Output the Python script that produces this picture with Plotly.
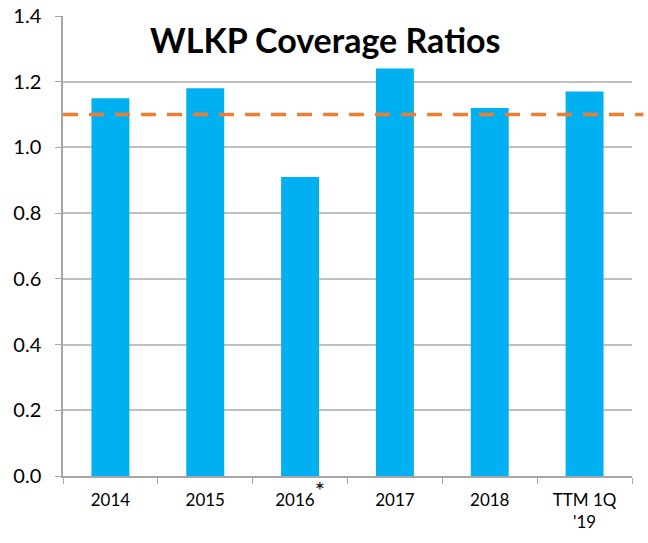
import plotly.graph_objs as go

categories = ["2014", "2015", "2016<sup><span style='font-size:24px'>*</span></sup>",
              "2017", "2018", "TTM 1Q<br>'19"]
coverage = [1.15, 1.18, 0.91, 1.24, 1.12, 1.17]
target_ratio = 1.1
y_ticks = [0.0, 0.2, 0.4, 0.6, 0.8, 1.0, 1.2, 1.4]

font_family = "Lato, Open Sans, sans-serif"

trace0 = go.Bar(
    x = categories,
    y = coverage,
    marker = {"color": "#00B0F0", "line": {"width": 0}},
    width = 0.4
)

layout = go.Layout(
    width = 648,
    height = 543,
    margin = {"l": 63, "r": 16, "t": 16, "b": 67},
    paper_bgcolor = "white",
    plot_bgcolor = "white",
    showlegend = False,
    font = {"family": font_family, "color": "#000000"},
    xaxis = {
        "automargin": False,
        "showgrid": False,
        "showline": True,
        "linecolor": "#A6A6A6",
        "linewidth": 1.5,
        "ticks": "outside",
        "tickson": "boundaries",
        "ticklen": 6,
        "tickcolor": "#A6A6A6",
        "tickfont": {"size": 17},
        "ticklabelstandoff": 8,
    },
    yaxis = {
        "automargin": False,
        "range": [0, 1.4],
        "tickmode": "array",
        "tickvals": y_ticks,
        "ticktext": ["%.1f" % v for v in y_ticks],
        "ticklabeloverflow": "allow",
        "showgrid": True,
        "gridcolor": "#BFBFBF",
        "gridwidth": 1.5,
        "showline": True,
        "linecolor": "#A6A6A6",
        "linewidth": 1.5,
        "ticks": "outside",
        "ticklen": 6,
        "tickcolor": "#A6A6A6",
        "tickfont": {"size": 20},
        "ticklabelstandoff": 10,
        "zeroline": False,
    },
    shapes = [{
        "type": "line",
        "xref": "paper",
        "yref": "y",
        "x0": 0,
        "x1": 1.02,
        "y0": target_ratio,
        "y1": target_ratio,
        "line": {"color": "#ED7D31", "width": 3.5, "dash": "15px,11px"},
    }],
    annotations = [{
        "text": "<b>WLKP Coverage Ratios</b>",
        "xref": "paper",
        "yref": "paper",
        "x": 0.462,
        "y": 0.948,
        "yanchor": "middle",
        "showarrow": False,
        "font": {"size": 34, "family": font_family},
    }]
)

fig = go.Figure(data = [trace0], layout = layout)

# drop the default page margin so the chart sits at the window's corner
fig.write_html(
    "out.html",
    config = {"displayModeBar": False},
    post_script = "document.body.style.margin = '0';"
)
